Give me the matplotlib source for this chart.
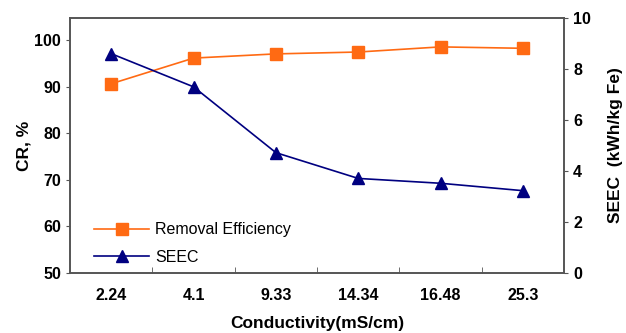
import matplotlib
matplotlib.use('Agg')
import matplotlib.pyplot as plt
import numpy as np

plt.rcParams['font.family'] = ['Liberation Sans', 'DejaVu Sans']

conductivity = ['2.24', '4.1', '9.33', '14.34', '16.48', '25.3']
removal_eff = [90.6, 96.1, 97.0, 97.4, 98.5, 98.2]
seec = [8.6, 7.3, 4.72, 3.71, 3.52, 3.23]

ORANGE = '#FF6A13'
NAVY = '#000080'
SPINE = '#555555'

fig = plt.figure(figsize=(6.26, 3.33), dpi=100)
ax = fig.add_axes([0.112, 0.18, 0.789, 0.766])
ax2 = ax.twinx()

x = np.arange(len(conductivity))
l1, = ax.plot(x, removal_eff, color=ORANGE, marker='s', ms=8, lw=1.2,
              label='Removal Efficiency')
l2, = ax2.plot(x, seec, color=NAVY, marker='^', ms=9, lw=1.2, label='SEEC')

ax.set_xlim(-0.5, len(conductivity) - 0.5)
ax.set_ylim(50, 104.7)
ax.set_yticks(range(50, 101, 10))
ax2.set_ylim(0, 10)
ax2.set_yticks(range(0, 11, 2))

# category labels at centres, tick marks between categories
ax.set_xticks(x)
ax.set_xticklabels(conductivity, fontsize=11.5, fontweight='bold')
ax.tick_params(axis='x', length=0, pad=11)
ax.set_xticks(np.arange(0.5, len(conductivity) - 0.5), minor=True)
ax.tick_params(axis='x', which='minor', direction='in', length=4, color=SPINE)

ax.tick_params(axis='y', direction='out', length=3, color=SPINE, labelsize=11.5)
ax2.tick_params(axis='y', direction='out', length=3, color=SPINE, labelsize=11.5)
for lab in ax.get_yticklabels() + ax2.get_yticklabels():
    lab.set_fontweight('bold')

for a in (ax, ax2):
    for s in a.spines.values():
        s.set_color(SPINE)
        s.set_linewidth(1.2)

ax.set_xlabel('Conductivity(mS/cm)', fontsize=12.5, fontweight='bold', labelpad=9)
ax.set_ylabel('CR, %', fontsize=12.5, fontweight='bold', labelpad=2)
ax2.set_ylabel('SEEC  (kWh/kg Fe)', fontsize=12.5, fontweight='bold', labelpad=12)

ax.legend([l1, l2], ['Removal Efficiency', 'SEEC'], loc='lower left',
          bbox_to_anchor=(0.02, -0.025), frameon=False, fontsize=11.5,
          handlelength=3.4, handletextpad=0.4, labelspacing=0.8)

fig.savefig('out.png', dpi=100)
